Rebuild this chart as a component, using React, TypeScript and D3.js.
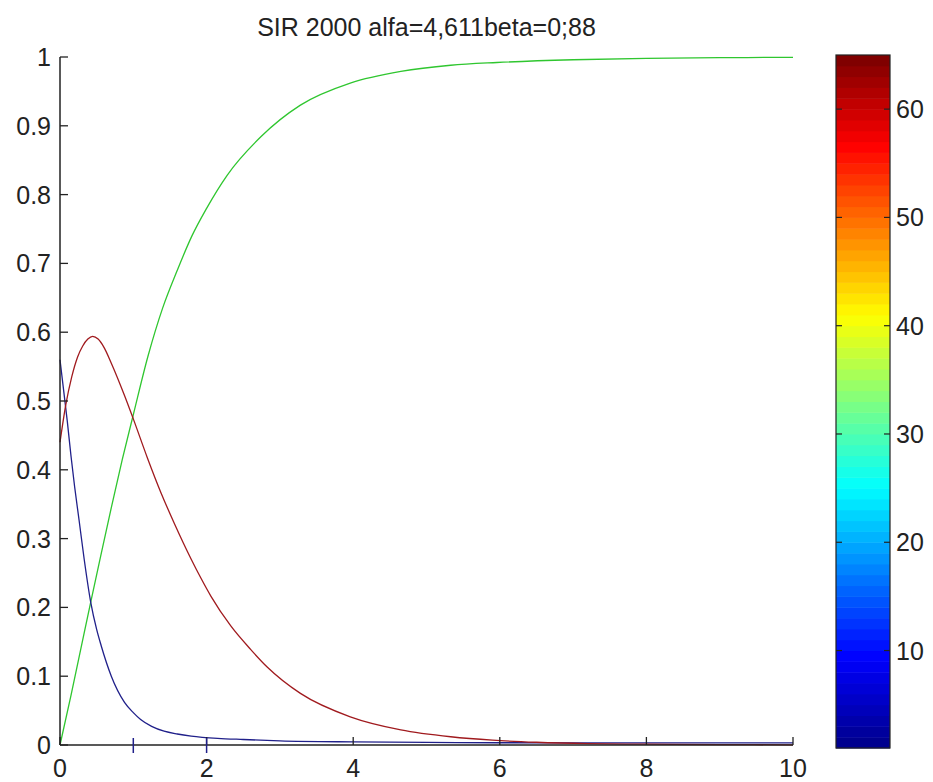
import React, { useEffect } from 'react';
import * as d3 from 'd3';

// values
const tS = [0, 0.05, 0.1, 0.15, 0.2, 0.26, 0.33, 0.42, 0.5, 0.56, 0.7, 0.88, 1.0, 1.1, 1.25, 1.42, 1.6, 1.79, 2.15, 2.5, 3, 4, 5, 6, 8, 10];
const susceptible = [0.56, 0.515, 0.47, 0.42, 0.375, 0.327, 0.27, 0.207, 0.168, 0.145, 0.1, 0.062, 0.047, 0.037, 0.027, 0.02, 0.016, 0.013, 0.0097, 0.008, 0.006, 0.0045, 0.0038, 0.0033, 0.003, 0.003];

const tI = [0, 0.08, 0.16, 0.24, 0.31, 0.38, 0.445, 0.52, 0.6, 0.7, 0.88, 1.0, 1.19, 1.38, 1.56, 1.79, 1.92, 2.06, 2.33, 2.6, 2.83, 3.28, 3.96, 4.65, 5.33, 5.9, 6.5, 7.2, 8, 9, 10];
const infected = [0.44, 0.495, 0.535, 0.564, 0.58, 0.59, 0.594, 0.59, 0.578, 0.555, 0.508, 0.474, 0.418, 0.366, 0.322, 0.27, 0.243, 0.216, 0.173, 0.139, 0.113, 0.075, 0.041, 0.022, 0.012, 0.007, 0.004, 0.002, 0.0012, 0.0006, 0.0003];

const tR = [0, 0.15, 0.33, 0.42, 0.56, 0.7, 0.85, 1.0, 1.2, 1.4, 1.6, 1.8, 2.0, 2.28, 2.74, 3.28, 3.96, 4.65, 5.33, 5.96, 7, 8, 9, 10];
const recovered = [0, 0.072, 0.163, 0.208, 0.277, 0.345, 0.415, 0.48, 0.565, 0.635, 0.69, 0.74, 0.78, 0.828, 0.884, 0.93, 0.962, 0.979, 0.988, 0.992, 0.996, 0.998, 0.999, 0.9995];

const crossT = [1, 2];
const xTicks = [0, 2, 4, 6, 8, 10];
const yTicks = [0, 0.1, 0.2, 0.3, 0.4, 0.5, 0.6, 0.7, 0.8, 0.9, 1];
const cbTicks = [10, 20, 30, 40, 50, 60];
const cbCells = d3.range(1, 65);

const title = 'SIR 2000 alfa=4,611beta=0;88';

const W = 933;
const H = 782;
const FONT = '"Liberation Sans", Arial, sans-serif';
const INK = '#222';

export default function App() {
  useEffect(() => {
    document.body.style.margin = '0';
  }, []);

  const x = d3.scaleLinear().domain([0, 10]).range([60, 793]);
  const y = d3.scaleLinear().domain([0, 1]).range([745, 57]);
  const cb = d3.scaleLinear().domain([1, 65]).range([748, 55]);
  const cbX0 = 836;
  const cbX1 = 890;

  // jet colormap
  const jet = d3.scaleLinear<string>()
    .domain([0, 1 / 8, 3 / 8, 5 / 8, 7 / 8, 1])
    .range(['#00008f', '#0000ff', '#00ffff', '#ffff00', '#ff0000', '#800000']);

  const mk = (ts: number[], vs: number[]) =>
    d3.line<number>()
      .x((_, i) => x(ts[i]))
      .y((v) => y(v))
      .curve(d3.curveMonotoneX)(vs) || '';

  return (
    <svg width={W} height={H} style={{ display: 'block', background: '#fff' }} fontFamily={FONT}>
      <text x={(x(0) + x(10)) / 2} y={36} textAnchor="middle" fontSize={25} fill={INK}>{title}</text>

      {/* curves */}
      <path d={mk(tR, recovered)} fill="none" stroke="#2fc62f" strokeWidth={1.3} />
      <path d={mk(tS, susceptible)} fill="none" stroke="#20208a" strokeWidth={1.3} />
      <path d={mk(tI, infected)} fill="none" stroke="#a01a1e" strokeWidth={1.3} />

      {/* axes */}
      <line x1={x(0)} x2={x(0)} y1={y(1)} y2={y(0)} stroke={INK} strokeWidth={1.5} />
      <line x1={x(0)} x2={x(10)} y1={y(0)} y2={y(0)} stroke={INK} strokeWidth={1.5} />
      {yTicks.map((t) => (
        <g key={'y' + t}>
          <line x1={x(0)} x2={x(0) + 8} y1={y(t)} y2={y(t)} stroke={INK} strokeWidth={1.3} />
          <text x={51} y={y(t) + 9} textAnchor="end" fontSize={25} fill={INK}>{String(t)}</text>
        </g>
      ))}
      {xTicks.map((t) => (
        <g key={'x' + t}>
          <line x1={x(t)} x2={x(t)} y1={y(0)} y2={y(0) - 8} stroke={INK} strokeWidth={1.3} />
          <text x={x(t)} y={777} textAnchor="middle" fontSize={25} fill={INK}>{String(t)}</text>
        </g>
      ))}
      {crossT.map((t) => (
        <line key={'c' + t} x1={x(t)} x2={x(t)} y1={y(0) - 7} y2={y(0) + 8} stroke="#20208a" strokeWidth={1.5} />
      ))}

      {/* colorbar */}
      {cbCells.map((c) => (
        <rect key={'cb' + c} x={cbX0} width={cbX1 - cbX0} y={cb(c + 1)} height={cb(c) - cb(c + 1) + 0.5}
          fill={jet((c - 1) / 63)} />
      ))}
      <rect x={cbX0} y={cb(65)} width={cbX1 - cbX0} height={cb(1) - cb(65)} fill="none" stroke={INK} strokeWidth={1.2} />
      {cbTicks.map((t) => (
        <g key={'cbt' + t}>
          <line x1={cbX0} x2={cbX0 + 6} y1={cb(t)} y2={cb(t)} stroke={INK} strokeWidth={1.2} />
          <line x1={cbX1 - 6} x2={cbX1} y1={cb(t)} y2={cb(t)} stroke={INK} strokeWidth={1.2} />
          <text x={cbX1 + 6} y={cb(t) + 9} fontSize={25} fill={INK}>{String(t)}</text>
        </g>
      ))}
    </svg>
  );
}
